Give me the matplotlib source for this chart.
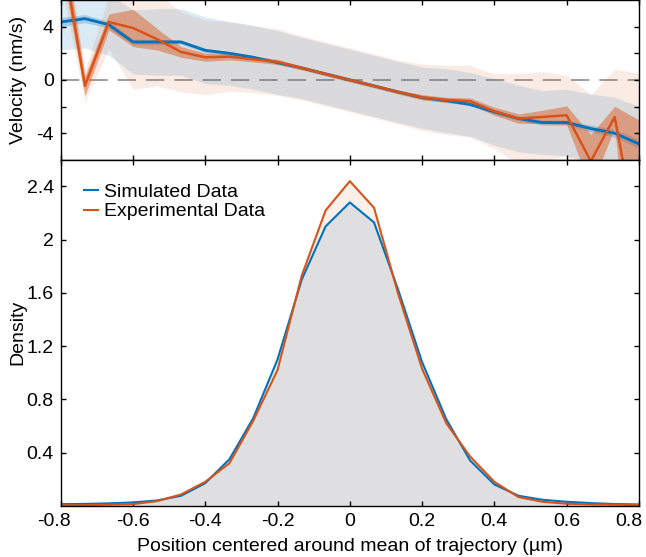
import numpy as np
import matplotlib
matplotlib.use("Agg")
import matplotlib.pyplot as plt
import matplotlib.transforms as mtrans

plt.rcParams['font.family'] = ['Liberation Sans', 'DejaVu Sans']
plt.rcParams['font.size'] = 14

# bin centres (um)
pos = [-0.8, -0.733, -0.667, -0.6, -0.533, -0.467, -0.4, -0.333, -0.267, -0.2, -0.133, -0.067, 0.0,
       0.067, 0.133, 0.2, 0.267, 0.333, 0.4, 0.467, 0.533, 0.6, 0.667, 0.733, 0.8]

# velocity (nm/s): mean, sem half-width, std half-width
vel_sim = [4.35, 4.6, 4.15, 2.85, 2.85, 2.85, 2.22, 2.0, 1.7, 1.3, 0.9, 0.45, 0.0,
           -0.45, -0.9, -1.33, -1.55, -1.84, -2.4, -2.9, -3.2, -3.2, -3.65, -4.0, -4.8]
sem_sim = [0.35, 0.3, 0.25, 0.2, 0.2, 0.15, 0.15, 0.12, 0.12, 0.1, 0.1, 0.1, 0.1,
           0.1, 0.1, 0.1, 0.12, 0.12, 0.15, 0.15, 0.2, 0.2, 0.25, 0.3, 0.35]
std_sim = [2.1, 2.2, 2.3, 2.4, 2.5, 2.5, 2.5, 2.4, 2.4, 2.4, 2.3, 2.3, 2.3,
           2.3, 2.3, 2.3, 2.4, 2.4, 2.5, 2.5, 2.4, 2.5, 2.6, 2.7, 2.8]

vel_exp = [10.3, -0.45, 4.35, 3.9, 3.05, 2.1, 1.7, 1.75, 1.55, 1.35, 0.9, 0.45, 0.0,
           -0.45, -0.9, -1.3, -1.5, -1.6, -2.35, -2.9, -2.78, -2.65, -6.1, -2.78, -12.5]
sem_exp = [1.5, 0.75, 0.6, 1.4, 0.8, 0.4, 0.3, 0.25, 0.2, 0.2, 0.15, 0.15, 0.15,
           0.15, 0.15, 0.2, 0.2, 0.25, 0.3, 0.35, 0.5, 0.7, 2.0, 0.8, 9.5]
std_exp = [3.0, 1.2, 2.0, 4.6, 3.5, 3.0, 2.8, 2.6, 2.5, 2.5, 2.4, 2.4, 2.4,
           2.4, 2.4, 2.5, 2.6, 2.7, 2.8, 3.4, 3.4, 3.0, 5.0, 3.6, 13.0]

# density
dens_sim = [0.012, 0.014, 0.018, 0.025, 0.04, 0.075, 0.17, 0.35, 0.66, 1.1, 1.7, 2.1, 2.28,
            2.13, 1.63, 1.08, 0.65, 0.34, 0.16, 0.075, 0.045, 0.03, 0.02, 0.013, 0.01]
dens_exp = [0.003, 0.005, 0.008, 0.012, 0.035, 0.085, 0.18, 0.32, 0.64, 1.02, 1.73, 2.22, 2.44,
            2.24, 1.6, 1.03, 0.62, 0.37, 0.18, 0.065, 0.03, 0.015, 0.01, 0.008, 0.005]

xticks = [-0.8, -0.6, -0.4, -0.2, 0, 0.2, 0.4, 0.6, 0.8]
xticklabels = ['-0.8', '-0.6', '-0.4', '-0.2', '0', '0.2', '0.4', '0.6', '0.8']

blue = '#0072BD'
orange = '#D95319'

p = np.array(pos)
vs, ss, ds = np.array(vel_sim), np.array(sem_sim), np.array(std_sim)
ve, se, de = np.array(vel_exp), np.array(sem_exp), np.array(std_exp)

fig = plt.figure(figsize=(6.46, 5.57), dpi=100)
ax1 = fig.add_axes([0.094, 0.713, 0.895, 0.287])
ax2 = fig.add_axes([0.094, 0.092, 0.895, 0.621])

# Geschwindigkeit
ax1.axhline(0, color='#8c8c8c', lw=1.2, dashes=(11, 6), zorder=0.5)
ax1.fill_between(p, vs - ds, vs + ds, color=blue, alpha=0.14, lw=0)
ax1.fill_between(p, vs - ss, vs + ss, color=blue, alpha=0.25, lw=0)
ax1.plot(p, vs, color=blue, lw=2.0)
ax1.fill_between(p, ve - de, ve + de, color=orange, alpha=0.11, lw=0)
ax1.fill_between(p, ve - se, ve + se, color=orange, alpha=0.45, lw=0)
ax1.plot(p, ve, color=orange, lw=1.8)
ax1.set_xlim(-0.8, 0.8)
ax1.set_ylim(-6, 6)
ax1.set_yticks([-4, -2, 0, 2, 4])
ax1.set_yticklabels(['-4', '', '0', '', '4'])
ax1.set_xticks(xticks)
ax1.set_xticklabels([])
ax1.set_ylabel('Velocity (nm/s)')

# Dichte
ax2.fill_between(p, 0, dens_sim, color=blue, alpha=0.12, lw=0)
ax2.fill_between(p, 0, dens_exp, color=orange, alpha=0.09, lw=0)
ax2.plot(p, dens_sim, color=blue, lw=1.5, label='Simulated Data')
ax2.plot(p, dens_exp, color=orange, lw=1.5, label='Experimental Data')
ax2.set_xlim(-0.8, 0.8)
ax2.set_ylim(0, 2.6)
ax2.set_yticks([0.4, 0.8, 1.2, 1.6, 2.0, 2.4])
ax2.set_yticklabels(['0.4', '0.8', '1.2', '1.6', '2', '2.4'])
ax2.set_xticks(xticks)
ax2.set_xticklabels(xticklabels)
ax2.set_ylabel('Density')
ax2.set_xlabel('Position centered around mean of trajectory (\u00b5m)', labelpad=6)
ax2.legend(loc='upper left', frameon=False, handlelength=0.7, handletextpad=0.35,
           borderaxespad=0.8, labelspacing=0.1, fontsize=14)

for ax in (ax1, ax2):
    ax.tick_params(direction='in', top=True, right=True, length=3.6, width=1, labelsize=14, pad=5)
    for s in ax.spines.values():
        s.set_linewidth(1.0)
    ax.yaxis.set_label_coords(-0.059, 0.5)

# Randbeschriftungen etwas nach links
labs = ax2.get_xticklabels()
for lab, dx in ((labs[0], -5), (labs[-1], -7)):
    lab.set_transform(lab.get_transform() + mtrans.ScaledTranslation(dx / 72, 0, fig.dpi_scale_trans))

fig.savefig('out.png', dpi=100)
